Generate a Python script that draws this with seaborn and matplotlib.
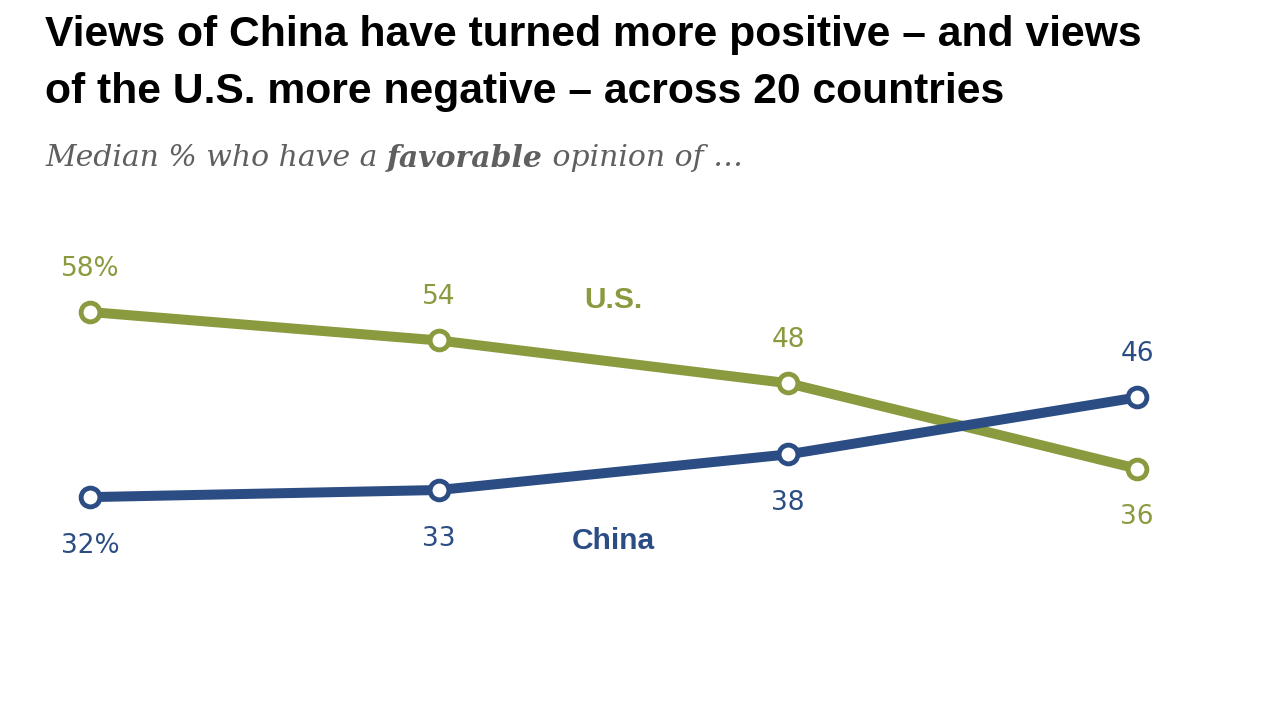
import pandas as pd
import matplotlib
matplotlib.use('Agg')
import matplotlib.pyplot as plt
import seaborn as sb

# data
waves = ['1', '2', '3', '4']
us_vals = [58, 54, 48, 36]
china_vals = [32, 33, 38, 46]
us_labels = ['58%', '54', '48', '36']
china_labels = ['32%', '33', '38', '46']

US_COL = '#8a9a3e'
CN_COL = '#2c4d84'

sb.set_theme(style='white')
plt.rcParams['font.family'] = ['Liberation Sans', 'DejaVu Sans']

df = pd.DataFrame({
    'wave': list(range(len(waves))) * 2,
    'value': us_vals + china_vals,
    'country': ['U.S.'] * len(waves) + ['China'] * len(waves),
})

W, H = 1268, 713
fig = plt.figure(figsize=(W / 100, H / 100), dpi=100)
ax = fig.add_axes([0, 0, 1, 1])

sb.lineplot(data=df, x='wave', y='value', hue='country',
            palette={'U.S.': US_COL, 'China': CN_COL},
            linewidth=7.2, marker='o', markersize=13.5,
            markerfacecolor='white', markeredgewidth=3.5,
            legend=False, ax=ax)
for ln, c in zip(ax.lines, [US_COL, CN_COL]):
    ln.set_markeredgecolor(c)
    ln.set_solid_capstyle('butt')

# pixel mapping: x=0 at 90px, x=3 at 1137px; 58 at y=312px, 7.12 px/unit
ppx = (1137 - 90) / 3
ax.set_xlim(-90 / ppx, 3 + (W - 1137) / ppx)
ppy = 7.12
ax.set_ylim(58 - (H - 312) / ppy, 58 + 312 / ppy)
ax.axis('off')

num_font = ['DejaVu Sans']
# value labels
for i, (v, t) in enumerate(zip(us_vals, us_labels)):
    dy = 31 if i < 3 else -35
    ax.annotate(t, (i, v), xytext=(0, dy), textcoords='offset points',
                ha='center', va='center', fontsize=19, color=US_COL,
                family=num_font)
for i, (v, t) in enumerate(zip(china_vals, china_labels)):
    dy = -35 if i < 3 else 31
    ax.annotate(t, (i, v), xytext=(0, dy), textcoords='offset points',
                ha='center', va='center', fontsize=19, color=CN_COL,
                family=num_font)

# series names
ax.text(1.5, 58 - (300 - 312) / ppy, 'U.S.', ha='center', va='center',
        fontsize=21.5, fontweight='bold', color=US_COL)
ax.text(1.5, 58 - (541 - 312) / ppy, 'China', ha='center', va='center',
        fontsize=21.5, fontweight='bold', color=CN_COL)

# title
fig.text(45 / W, 1 - 35 / H, 'Views of China have turned more positive \u2013 and views',
         fontsize=30.7, fontweight='bold', color='black', va='center', ha='left')
fig.text(45 / W, 1 - 92 / H, 'of the U.S. more negative \u2013 across 20 countries',
         fontsize=30.7, fontweight='bold', color='black', va='center', ha='left')

# subtitle with bold-italic word
fig.canvas.draw()
r = fig.canvas.get_renderer()
x = 45
pieces = [('Median % who have a ', 'normal'), ('favorable', 'bold'), (' opinion of \u2026', 'normal')]
for s, w in pieces:
    t = fig.text(x / W, 1 - 158 / H, s, fontsize=21.5, style='italic', fontweight=w,
                 family=['DejaVu Serif'], color='#5f5f5f',
                 va='center', ha='left')
    bb = t.get_window_extent(renderer=r)
    x += bb.width

fig.savefig('out.png', dpi=100)
